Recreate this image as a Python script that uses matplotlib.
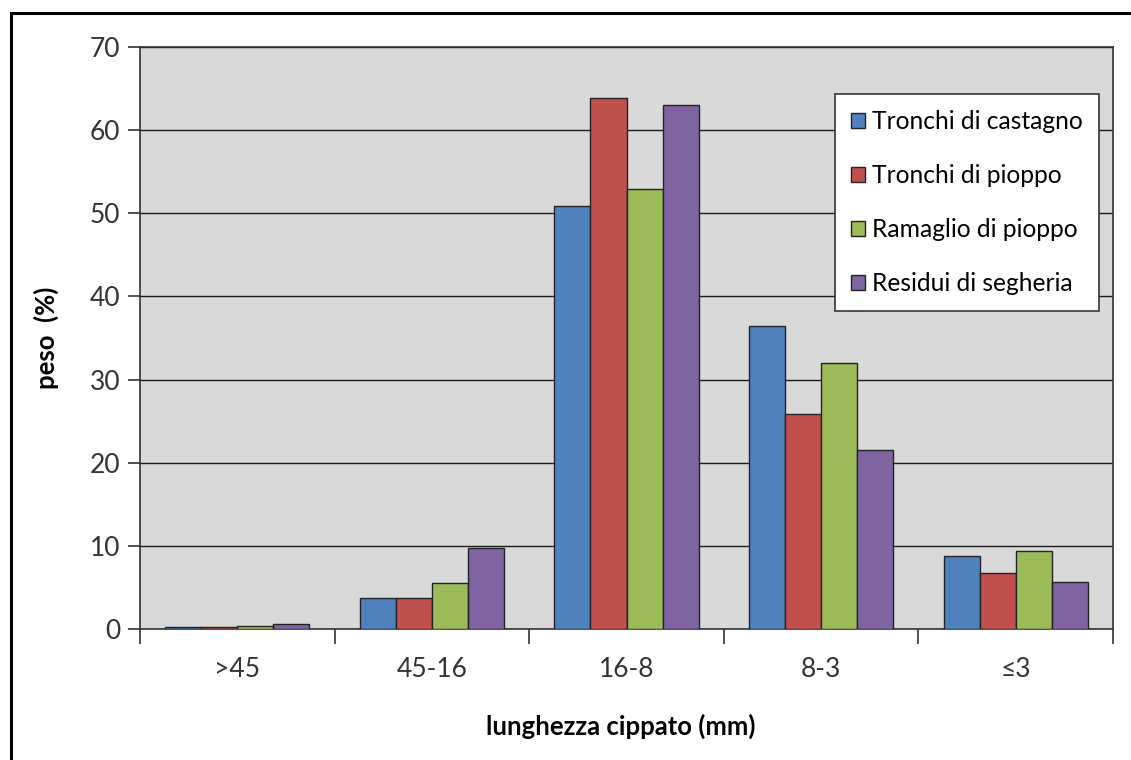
import numpy as np
import matplotlib.pyplot as plt
from matplotlib.patches import Rectangle

# classi di lunghezza del cippato
categorie = [">45", "45-16", "16-8", "8-3", "≤3"]

# peso (%) per ciascun materiale
tronchi_castagno = [0.2, 3.7, 50.9, 36.4, 8.8]
tronchi_pioppo = [0.2, 3.7, 63.9, 25.9, 6.7]
ramaglio_pioppo = [0.4, 5.5, 52.9, 32.0, 9.4]
residui_segheria = [0.55, 9.7, 63.0, 21.5, 5.7]

serie = ["Tronchi di castagno", "Tronchi di pioppo", "Ramaglio di pioppo", "Residui di segheria"]
colori = ["#4F81BD", "#C0504D", "#9BBB59", "#8064A2"]

plt.rcParams['font.family'] = ['Lato', 'DejaVu Sans']

fig = plt.figure(figsize=(11.31, 7.6), dpi=100)
ax = fig.add_axes([140 / 1131, 1 - 629 / 760, 973 / 1131, 582 / 760])
ax.set_facecolor("#D9D9D9")

# cornice esterna del grafico
fig.patches.append(Rectangle((11 / 1131, -0.1), 1.2, 0.1 + (760 - 13) / 760,
                             transform=fig.transFigure, fill=False,
                             edgecolor="black", linewidth=2.2, zorder=0))

x = np.arange(len(categorie))
larghezza = 0.185
valori = [tronchi_castagno, tronchi_pioppo, ramaglio_pioppo, residui_segheria]
for i, (v, nome, c) in enumerate(zip(valori, serie, colori)):
    ax.bar(x + (i - 1.5) * larghezza, v, larghezza, color=c, edgecolor="#222222",
           linewidth=1.0, label=nome, zorder=3)

ax.set_ylim(0, 70)
ax.set_yticks(range(0, 71, 10))
ax.yaxis.grid(True, color="#1a1a1a", linewidth=1.0, zorder=1)
ax.set_xlim(-0.5, len(categorie) - 0.5)

# tacche ai confini delle classi, etichette al centro
ax.set_xticks(np.arange(-0.5, len(categorie), 1.0))
ax.set_xticklabels([])
ax.set_xticks(x, minor=True)
ax.set_xticklabels(categorie, minor=True, fontsize=19, color="#333333")
ax.tick_params(axis="x", which="minor", length=0, pad=20)
ax.tick_params(axis="x", which="major", length=11, width=1.2, color="#333333", direction="out")
ax.tick_params(axis="y", length=9, width=1.2, color="#333333", direction="out",
               labelsize=19, labelcolor="#333333", pad=5)

for s in ax.spines.values():
    s.set_color("#333333")
    s.set_linewidth(1.2)

ax.set_xlabel("lunghezza cippato (mm)", fontsize=18.5, fontweight="bold", labelpad=22)
ax.xaxis.set_label_coords(0.494, -0.145)
ax.set_ylabel("peso  (%)", fontsize=18.5, fontweight="bold", labelpad=22)

leg = ax.legend(loc="upper right", bbox_to_anchor=(0.9856, 0.919),
                fontsize=17.7, fancybox=False, framealpha=1, edgecolor="#333333",
                handlelength=0.55, handleheight=0.55, handletextpad=0.3,
                labelspacing=1.26, borderpad=0.65, borderaxespad=0)
leg.get_frame().set_linewidth(1.2)
leg.set_zorder(5)

fig.savefig("out.png", dpi=100)
